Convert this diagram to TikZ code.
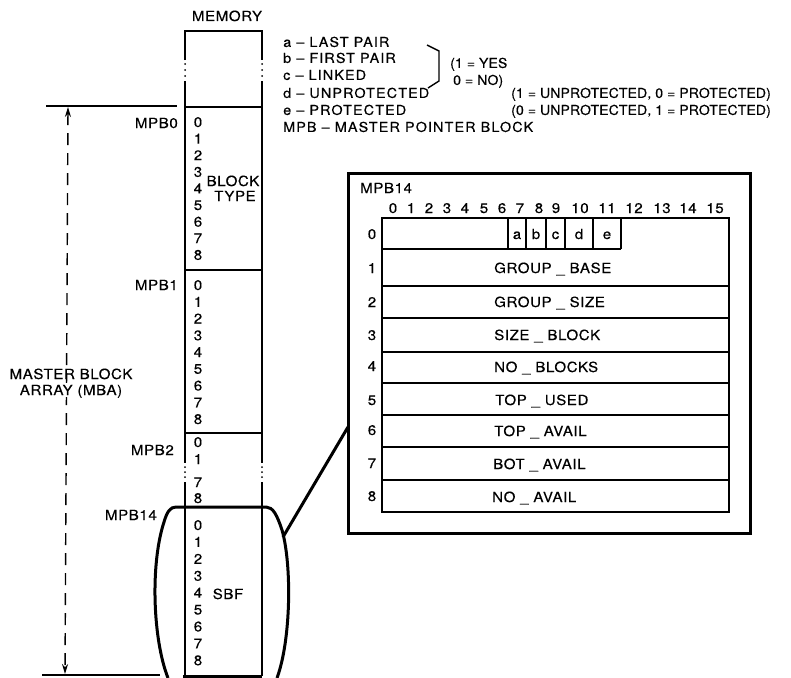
\documentclass[tikz,border=0pt]{standalone}
\usepackage{fontspec}
\setmainfont{TeX Gyre Heros}[Ligatures=TeX, LetterSpace=4, FakeStretch=1.08, FakeBold=0.3]
\newfontfamily\lgfont{TeX Gyre Heros}[Ligatures=TeX, LetterSpace=8, FakeStretch=1.06, FakeBold=0.3]
\newfontfamily\pdfont{TeX Gyre Heros}[Ligatures=TeX, LetterSpace=1, FakeStretch=1.03, FakeBold=0.3]
\usetikzlibrary{arrows.meta}
\begin{document}
\begin{tikzpicture}[x=1pt,y=-1pt,
  txt/.style={inner sep=0pt, text height=10pt, text depth=0pt, font=\fontsize{14}{16}\selectfont},
  lg/.style={inner sep=0pt, anchor=west, text height=9.8pt, text depth=0pt, font=\lgfont\fontsize{13.6}{15}\selectfont},
  pdl/.style={lg, font=\pdfont\fontsize{13.6}{15}\selectfont},
  thinln/.style={line width=1.4pt},
  thickln/.style={line width=3pt}]
\useasboundingbox (0,0) rectangle (791,677);

% ---------- memory column ----------
\node[txt] (mem) at (227,16) {MEMORY};
\draw[thinln] (185,60) -- (185,31) -- (262,31) -- (262,60);
\foreach \y in {64,70,76} { \fill (185,\y) circle (1pt); \fill (262,\y) circle (1pt); }
\draw[thinln] (185,81) -- (185,463);
\draw[thinln] (262,81) -- (262,463);
\foreach \y in {467,472,477} { \fill (185,\y) circle (1pt); \fill (262,\y) circle (1pt); }
\draw[thinln] (185,482) -- (185,676);
\draw[thinln] (262,482) -- (262,676);
\draw[thinln] (185,107) -- (262,107);
\draw[thinln] (185,270) -- (262,270);
\draw[thinln] (185,433) -- (262,433);
\draw[thickln] (183,676) -- (262,676);

% block labels
\node[txt, anchor=east] (lmpb0) at (178,123) {MPB0};
\node[txt, anchor=east] (lmpb1) at (178,285) {MPB1};
\node[txt, anchor=east] (lmpb2) at (174,450) {MPB2};
\node[txt, anchor=east] (lmpb14) at (157,515) {MPB14};

% digits
\foreach \i in {0,...,8} {
  \node[txt] (da\i) at (198,{122+16.6*\i}) {\i};
  \node[txt] (db\i) at (198,{285+16.75*\i}) {\i};
  \node[txt] (dd\i) at (198,{525+16.9*\i}) {\i};
}
\node[txt] (dc0) at (198,442) {0};
\node[txt] (dc1) at (198,459) {1};
\node[txt] (dc7) at (198,482) {7};
\node[txt] (dc8) at (198,498) {8};
\node[txt] (bt1) at (233,181) {BLOCK};
\node[txt] (bt2) at (235,196) {TYPE};
\node[txt] (sbf) at (228,594) {SBF};

% barrel around MPB14
\draw[thickln, line join=round]
  (168,678) .. controls (153,640) and (150,565) .. (164,522)
  .. controls (167,512) and (170,507) .. (176,507) -- (266,507)
  .. controls (273,507) and (277,515) .. (282,530)
  .. controls (292,565) and (291,640) .. (277,678);
\coordinate (barrelR) at (283,537);

% ---------- master block array ----------
\draw[thinln] (46,106) -- (177,106);
\draw[thinln] (42,675) -- (160,675);
\coordinate (mbaT) at (68,107);
\coordinate (mbaB) at (65,674);
\draw[thinln, dash pattern=on 12pt off 8pt, {Stealth[length=10pt,width=6pt]}-{Stealth[length=10pt,width=6pt]}] (mbaT) -- (mbaB);
\node[txt, fill=white, align=center, inner sep=2pt, font=\fontsize{14}{16}\selectfont] (mba) at (71,390) {MASTER BLOCK\\ARRAY (MBA)};

% ---------- legend ----------
\node[lg] (la) at (283,42) {a -- LAST PAIR};
\node[lg] (lb) at (283,58) {b -- FIRST PAIR};
\node[lg] (lc) at (283,75) {c -- LINKED};
\node[lg] (ld) at (283,93) {d -- UNPROTECTED};
\node[lg] (le) at (283,110) {e -- PROTECTED};
\node[lg] (lm) at (283,127) {MPB -- MASTER POINTER BLOCK};
\draw[thinln] (427,45) -- (439,51) -- (439,81) -- (428,88);
\node[pdl] (yes) at (450,63) {(1 = YES};
\node[pdl] (no) at (453,80) {0 = NO)};
\node[pdl] (pd) at (511,93) {(1 = UNPROTECTED, 0 = PROTECTED)};
\node[pdl] (pe) at (511,110) {(0 = UNPROTECTED, 1 = PROTECTED)};

% ---------- MPB14 detail box ----------
\draw[thickln] (348,173) rectangle (750,533);
\coordinate (boxL) at (348,427);
\draw[thickln] (barrelR) -- (boxL);
\node[txt, anchor=west] (bx) at (360,188) {MPB14};
\foreach \x [count=\n from 0] in {393,411,429,447,465,484,502,520,539,556,580,607,634,662,688,715}
  \node[txt] (bit\n) at (\x,208) {\n};

\draw[thinln] (382,218) rectangle (729,512);
\draw[thinln] (382,249) -- (621,249);
\foreach \y in {286,318,352,383,415,447,480} \draw[thinln] (382,\y) -- (729,\y);
\foreach \x in {508,526,546,565,593,621} \draw[thinln] (\x,218) -- (\x,249);
\node[txt] (fa) at (517,234) {a};
\node[txt] (fb) at (536,234) {b};
\node[txt] (fc) at (555.5,234) {c};
\node[txt] (fd) at (579,234) {d};
\node[txt] (fe) at (607,234) {e};

\foreach \y [count=\n from 0] in {234,268,302,335,366,400,430,463,496}
  \node[txt] (row\n) at (372,\y) {\n};

\node[txt, anchor=west] (w1) at (494,268) {GROUP \_ BASE};
\node[txt, anchor=west] (w2) at (494,302) {GROUP \_ SIZE};
\node[txt, anchor=west] (w3) at (494,335) {SIZE \_ BLOCK};
\node[txt, anchor=west] (w4) at (494,367) {NO \_ BLOCKS};
\node[txt, anchor=west] (w5) at (495,400) {TOP \_ USED};
\node[txt, anchor=west] (w6) at (494,431) {TOP \_ AVAIL};
\node[txt, anchor=west] (w7) at (493,464) {BOT \_ AVAIL};
\node[txt, anchor=west] (w8) at (492,497) {NO \_ AVAIL};
\end{tikzpicture}
\end{document}
